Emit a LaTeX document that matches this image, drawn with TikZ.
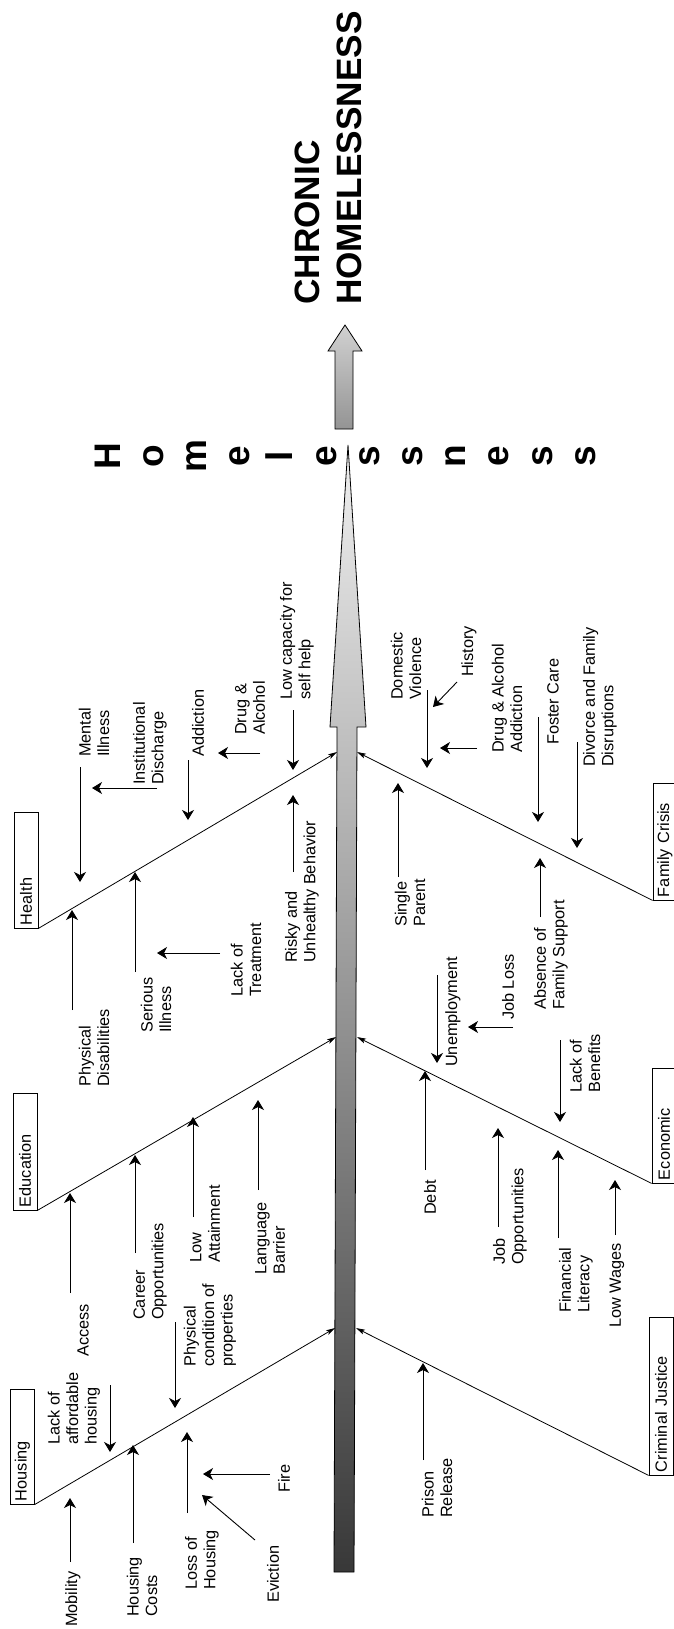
\documentclass[tikz,border=0pt]{standalone}
\usepackage{fontspec}
\setmainfont{Liberation Sans}
\usetikzlibrary{arrows.meta}
\begin{document}
\begin{tikzpicture}[x=1pt,y=-1pt,
  lbl/.style={rotate=90,anchor=west,align=left,inner sep=0pt,font=\fontsize{16.3}{18.5}\selectfont},
  sub/.style={line width=0.9pt,-{Stealth[length=10pt,width=12pt,inset=3pt]}},
  bone/.style={line width=0.8pt,-{Stealth[length=9pt,width=5pt,inset=2pt]}},
  cat/.style={draw,line width=0.8pt,rotate=90,minimum height=24pt,inner xsep=3pt,inner ysep=0pt,align=left,font=\fontsize{16.3}{18.5}\selectfont},
  big/.style={rotate=90,anchor=base west,inner sep=0pt,font=\fontsize{35.2}{42}\selectfont\bfseries},
  letter/.style={rotate=90,anchor=base,inner sep=0pt,font=\fontsize{37}{43}\selectfont\bfseries}
]
\fill[white] (0,0) rectangle (673,1629);
\useasboundingbox (0,0) rectangle (673,1629);

% spine
\shade[draw,line width=0.8pt,top color=black!6,bottom color=black!78]
  (334,1572) -- (337,727) -- (330,727) -- (348,445) -- (366,727) -- (357,727) -- (354,1572) -- cycle;
% result arrow
\shade[draw,line width=0.8pt,top color=black!18,bottom color=black!42]
  (335,429) -- (335,351) -- (328,351) -- (345,325) -- (362,351) -- (353,351) -- (353,429) -- cycle;

% title
\node[big] (t1) at (319,305) {CHRONIC};
\node[big] (t2) at (361,305) {HOMELESSNESS};

% vertical word
\foreach \c [count=\i from 0] in {H,o,m,e,l,e,s,s,n,e,s,s}
  \node[letter] (w\i) at ({120+43.2*\i},456) {\c};

% category boxes
\node[cat,text width=110pt] (health) at (26,870) {Health};
\node[cat,text width=111pt] (educ) at (25,1151.5) {Education};
\node[cat,text width=109pt] (hous) at (22.5,1446.5) {Housing};
\node[cat,text width=111pt] (fam) at (665,841.5) {Family Crisis};
\node[cat,text width=109pt] (econ) at (664,1125.5) {Economic};
\node[cat,text width=152pt] (crim) at (661,1396) {Criminal Justice};

% spine contact points
\coordinate (sHe) at (337,752);
\coordinate (sEd) at (336,1037);
\coordinate (sHo) at (335,1328);
\coordinate (sFa) at (357,752);
\coordinate (sEc) at (357,1037);
\coordinate (sCj) at (356,1328);

\draw[bone] (health.south west) -- (sHe);
\draw[bone] (educ.south west) -- (sEd);
\draw[bone] (hous.south west) -- (sHo);
\draw[bone] (fam.north west) -- (sFa);
\draw[bone] (econ.north west) -- (sEc);
\draw[bone] (crim.north west) -- (sCj);

% ---- Health labels
\node[lbl] (mi) at (94,757) {Mental\\Illness};
\node[lbl] (pd) at (94,1087) {Physical\\Disabilities};
\node[lbl] (id) at (150,785) {Institutional\\Discharge};
\node[lbl] (ad) at (198,757) {Addiction};
\node[lbl] (da) at (250,735) {Drug \&\\Alcohol};
\node[lbl] (lc) at (297,700) {Low capacity for\\self help};
\node[lbl] (ru) at (302,963) {Risky and\\Unhealthy Behavior};
\node[lbl] (si) at (156,1033) {Serious\\Illness};
\node[lbl] (lt) at (246,997) {Lack of\\Treatment};
% ---- Education labels
\node[lbl] (ac) at (83,1357) {Access};
\node[lbl] (co) at (150,1320) {Career\\Opportunities};
\node[lbl] (la) at (205,1263) {Low\\Attainment};
\node[lbl] (lb) at (270,1275) {Language\\Barrier};
\node[lbl] (pc) at (210,1367) {Physical\\condition of\\properties};
% ---- Housing labels
\node[lbl] (lah) at (74,1445) {Lack of\\affordable\\housing};
\node[lbl] (mo) at (73,1627) {Mobility};
\node[lbl] (hc) at (142,1617) {Housing\\Costs};
\node[lbl] (lh) at (202,1590) {Loss of\\Housing};
\node[lbl] (fi) at (284,1493) {Fire};
\node[lbl] (ev) at (273,1603) {Eviction};
% ---- Criminal justice
\node[lbl] (pr) at (437,1518) {Prison\\Release};
% ---- Economic
\node[lbl] (de) at (430,1215) {Debt};
\node[lbl] (un) at (453,1067) {Unemployment};
\node[lbl] (jl) at (508,1020) {Job Loss};
\node[lbl] (jo) at (510,1265) {Job\\Opportunities};
\node[lbl] (lob) at (585,1093) {Lack of\\Benefits};
\node[lbl] (fl) at (576,1313) {Financial\\Literacy};
\node[lbl] (lw) at (617,1328) {Low Wages};
% ---- Family
\node[lbl] (dv) at (406,700) {Domestic\\Violence};
\node[lbl] (hi) at (469,677) {History};
\node[lbl] (daa) at (507,753) {Drug \& Alcohol\\Addiction};
\node[lbl] (fc) at (553,745) {Foster Care};
\node[lbl] (dfd) at (600,767) {Divorce and Family\\Disruptions};
\node[lbl] (sp) at (410,927) {Single\\Parent};
\node[lbl] (afs) at (551,1010) {Absence of\\Family Support};

% ---- arrow end points
\coordinate (a1) at (80,767);   \coordinate (b1) at (80,882);
\coordinate (a2) at (72,1010);  \coordinate (b2) at (72,910);
\coordinate (a3) at (157,788);  \coordinate (b3) at (92,788);
\coordinate (a4) at (188,760);  \coordinate (b4) at (188,820);
\coordinate (a5) at (260,753);  \coordinate (b5) at (218,753);
\coordinate (a6) at (293,710);  \coordinate (b6) at (293,770);
\coordinate (a7) at (293,872);  \coordinate (b7) at (293,795);
\coordinate (a8) at (135,972);  \coordinate (b8) at (135,872);
\coordinate (a9) at (220,953);  \coordinate (b9) at (157,953);
\coordinate (a10) at (70,1293); \coordinate (b10) at (70,1193);
\coordinate (a11) at (135,1253);\coordinate (b11) at (135,1155);
\coordinate (a12) at (193,1217);\coordinate (b12) at (193,1117);
\coordinate (a13) at (258,1190);\coordinate (b13) at (258,1100);
\coordinate (a14) at (175,1322);\coordinate (b14) at (175,1408);
\coordinate (a15) at (110,1385);\coordinate (b15) at (110,1452);
\coordinate (a16) at (70,1562); \coordinate (b16) at (70,1498);
\coordinate (a17) at (133,1543);\coordinate (b17) at (133,1445);
\coordinate (a18) at (187,1513);\coordinate (b18) at (187,1432);
\coordinate (a19) at (270,1474);\coordinate (b19) at (203,1474);
\coordinate (a20) at (255,1540);\coordinate (b20) at (202,1495);
\coordinate (a21) at (423,1460);\coordinate (b21) at (423,1363);
\coordinate (a22) at (425,1170);\coordinate (b22) at (425,1071);
\coordinate (a23) at (437,975); \coordinate (b23) at (437,1063);
\coordinate (a24) at (513,1027);\coordinate (b24) at (468,1027);
\coordinate (a25) at (498,1227);\coordinate (b25) at (498,1128);
\coordinate (a26) at (560,1040);\coordinate (b26) at (560,1122);
\coordinate (a27) at (558,1238);\coordinate (b27) at (558,1150);
\coordinate (a28) at (615,1235);\coordinate (b28) at (615,1180);
\coordinate (a29) at (427,690); \coordinate (b29) at (427,768);
\coordinate (a30) at (457,682); \coordinate (b30) at (433,707);
\coordinate (a31) at (477,748); \coordinate (b31) at (440,748);
\coordinate (a32) at (538,717); \coordinate (b32) at (538,822);
\coordinate (a33) at (577,742); \coordinate (b33) at (577,848);
\coordinate (a34) at (398,877); \coordinate (b34) at (398,783);
\coordinate (a35) at (540,917); \coordinate (b35) at (540,858);

\foreach \k in {1,...,35} \draw[sub] (a\k) -- (b\k);
\end{tikzpicture}
\end{document}
